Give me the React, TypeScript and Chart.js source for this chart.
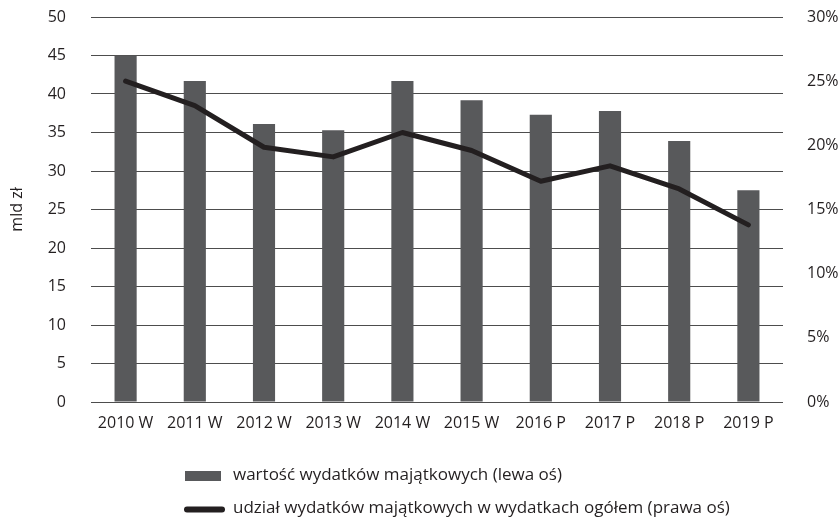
import React, { useEffect, useRef } from "react";
import { Chart, registerables } from "chart.js";

Chart.register(...registerables);

const categories = ["2010 W", "2011 W", "2012 W", "2013 W", "2014 W", "2015 W", "2016 P", "2017 P", "2018 P", "2019 P"];
const wartosc = [45.0, 41.7, 36.1, 35.3, 41.7, 39.2, 37.3, 37.8, 33.9, 27.5];
const udzial = [25.0, 23.1, 19.85, 19.1, 21.0, 19.6, 17.2, 18.4, 16.6, 13.8];
const leftTicks = [0, 5, 10, 15, 20, 25, 30, 35, 40, 45, 50];
const rightTicks = [0, 5, 10, 15, 20, 25, 30];
const barLabel = "wartość wydatków majątkowych (lewa oś)";
const lineLabel = "udział wydatków majątkowych w wydatkach ogółem (prawa oś)";
const yTitle = "mld zł";

const FONT = "'Open Sans', sans-serif";
const BAR_COLOR = "#58595b";
const LINE_COLOR = "#231f20";
const TEXT_COLOR = "#231f20";
const FS = 16;

const legendPlugin = {
  id: "customLegend",
  afterDraw(chart: any) {
    const ctx = chart.ctx;
    ctx.save();
    ctx.font = `17px ${FONT}`;
    ctx.textBaseline = "middle";
    ctx.textAlign = "left";
    ctx.fillStyle = BAR_COLOR;
    ctx.fillRect(185, 471, 36, 10);
    ctx.fillStyle = TEXT_COLOR;
    ctx.fillText(barLabel, 233, 475);
    ctx.strokeStyle = LINE_COLOR;
    ctx.lineWidth = 6;
    ctx.lineCap = "round";
    ctx.beginPath();
    ctx.moveTo(187, 509.5);
    ctx.lineTo(222, 509.5);
    ctx.stroke();
    ctx.fillText(lineLabel, 233, 508);
    ctx.restore();
  },
};

const zeroPad = (s: any) => {
  s.paddingTop = 0;
  s.paddingBottom = 0;
  s.paddingLeft = 0;
  s.paddingRight = 0;
};

export default function App() {
  const ref = useRef<HTMLCanvasElement | null>(null);
  useEffect(() => {
    document.body.style.margin = "0";
    if (!ref.current) return;
    const chart = new Chart(ref.current, {
      type: "bar",
      data: {
        labels: categories,
        datasets: [
          {
            type: "line",
            label: lineLabel,
            data: udzial,
            yAxisID: "y1",
            borderColor: LINE_COLOR,
            borderWidth: 5,
            pointRadius: 0,
            tension: 0,
            borderCapStyle: "round",
            borderJoinStyle: "round",
            order: 0,
          } as any,
          {
            type: "bar",
            label: barLabel,
            data: wartosc,
            yAxisID: "y",
            backgroundColor: BAR_COLOR,
            barPercentage: 0.32,
            categoryPercentage: 1,
            order: 1,
          },
        ],
      },
      options: {
        animation: false,
        responsive: false,
        layout: { padding: { top: 17, bottom: 85, left: 0, right: 0 } },
        plugins: { legend: { display: false }, tooltip: { enabled: false } },
        scales: {
          x: {
            grid: { display: false },
            border: { display: false },
            ticks: { color: TEXT_COLOR, font: { family: FONT, size: FS }, padding: 4, maxRotation: 0 },
            afterFit: (s: any) => { s.height = 30; zeroPad(s); },
          },
          y: {
            position: "left",
            min: 0,
            max: 50,
            afterBuildTicks: (s: any) => { s.ticks = leftTicks.map((v) => ({ value: v })); },
            grid: { color: "#4d4d4d", lineWidth: 1, drawTicks: false },
            border: { display: false },
            ticks: { color: TEXT_COLOR, font: { family: FONT, size: FS }, padding: 25 },
            title: { display: true, text: yTitle, color: TEXT_COLOR, font: { family: FONT, size: FS }, padding: { top: 8, bottom: 0 } },
            afterFit: (s: any) => { s.width = 91; zeroPad(s); },
          },
          y1: {
            position: "right",
            min: 0,
            max: 30,
            afterBuildTicks: (s: any) => { s.ticks = rightTicks.map((v) => ({ value: v })); },
            grid: { display: false },
            border: { display: false },
            ticks: { color: TEXT_COLOR, font: { family: FONT, size: FS }, padding: 16, callback: (v: any) => v + "%" },
            afterFit: (s: any) => { s.width = 56; zeroPad(s); },
          },
        },
      },
      plugins: [legendPlugin],
    });
    return () => chart.destroy();
  }, []);
  return (
    <div style={{ position: "absolute", left: 0, top: 0, width: 839, height: 517 }}>
      <canvas ref={ref} width={839} height={517} style={{ width: 839, height: 517 }} />
    </div>
  );
}
